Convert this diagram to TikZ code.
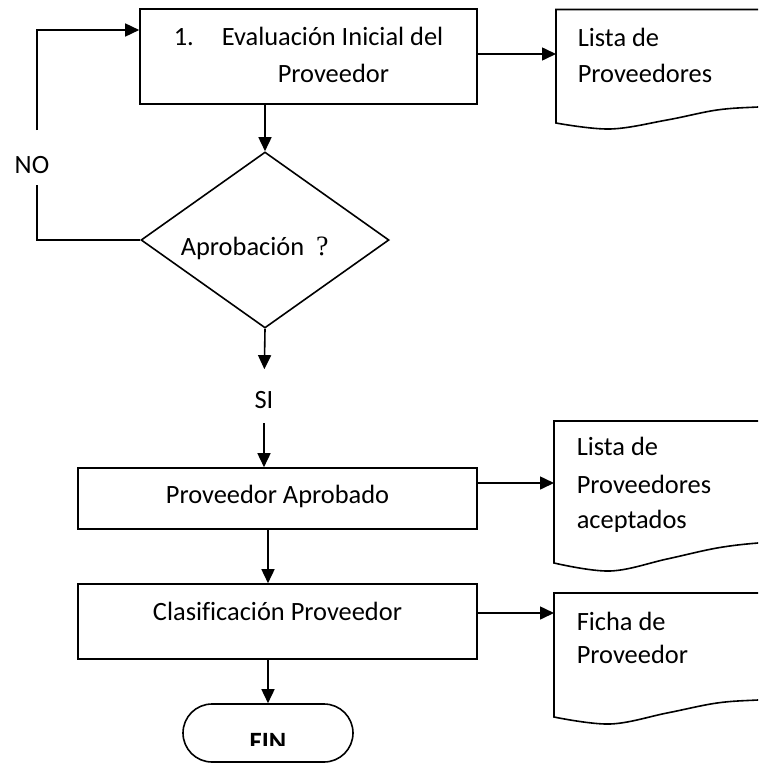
\documentclass[tikz,border=0pt]{standalone}
\usepackage{fontspec}
\setmainfont{Carlito}[Ligatures=NoCommon]
\newfontfamily\qfont{Liberation Serif}
\usetikzlibrary{arrows.meta, shapes.geometric}

\begin{document}
\begin{tikzpicture}[x=1pt, y=-1pt,
  every node/.style={font=\fontsize{26.4}{37}\selectfont},
  line width=1.6pt,
  box/.style={draw, rectangle, line width=1.6pt, inner sep=0pt},
  decision/.style={draw, diamond, inner sep=0pt, line width=1.6pt},
  terminal/.style={draw, rectangle, rounded corners=29pt, inner sep=0pt, line width=1.6pt},
  flow/.style={-{Triangle[length=14pt,width=13pt]}, line width=1.6pt},
  txt/.style={anchor=base west, inner sep=0pt},
  ctxt/.style={anchor=base, inner sep=0pt},
  docline/.style={line width=1.6pt, line join=miter},
]
\useasboundingbox (0,0) rectangle (758,763);
\clip (0,0) rectangle (758,763);

% process boxes
\node[box, minimum width=337pt, minimum height=95pt] (b1) at (308.5,56.5) {};
\node[txt] (n1) at (173,45) {1.};
\node[txt] (t1a) at (221,45) {Evaluación Inicial del};
\node[txt] (t1b) at (277,82) {Proveedor};

\node[decision, minimum width=248pt, minimum height=176pt] (dec) at (265,240) {};
\node[txt] (tq) at (180,255) {Aprobación\hspace{12pt}{\qfont\fontsize{28}{37}\selectfont ?}};

\node[inner sep=0pt] (si) at (264,399.6) {SI};
\node[inner sep=0pt] (no) at (32,164.6) {NO};

\node[box, minimum width=399pt, minimum height=61pt] (b3) at (277.5,498.5) {};
\node[ctxt] (t3) at (277.5,503) {Proveedor Aprobado};

\node[box, minimum width=399pt, minimum height=75pt] (b4) at (277.5,621.5) {};
\node[ctxt] (t4) at (277.5,620) {Clasificación Proveedor};

% end terminal; its label is cut by the text frame
\node[terminal, minimum width=170pt, minimum height=58pt] (fin) at (268,733) {};
\begin{scope}
  \clip (190,720) rectangle (346,745);
  \node[ctxt, font=\fontsize{26.4}{37}\selectfont\bfseries] (tfin) at (268,750) {FIN};
\end{scope}

% documents
\draw[docline] (790,9.5) -- (556,9.5) -- plot[smooth, tension=0.6]
  coordinates {(556,123) (610,129) (667,120) (717,110) (758,107) (790,106)};
\node[txt] (d1a) at (577,46) {Lista de};
\node[txt] (d1b) at (577,82) {Proveedores};

\draw[docline] (790,421) -- (554,421) -- plot[smooth, tension=0.6]
  coordinates {(554,563) (610,571) (667,559) (717,548) (758,543) (790,542)};
\node[txt] (d2a) at (576,455) {Lista de};
\node[txt] (d2b) at (576,493) {Proveedores};
\begin{scope}
  \clip (560,500) rectangle (758,531.5);
  \node[txt] (d2c) at (576,528) {aceptados};
\end{scope}

\draw[docline] (790,593) -- (554,593) -- plot[smooth, tension=0.6]
  coordinates {(554,717) (610,724) (667,713) (717,703) (758,700) (790,699)};
\node[txt] (d3a) at (576,630) {Ficha de};
\node[txt] (d3b) at (576,663) {Proveedor};

% connector ends on the documents and on the loop
\coordinate (d1) at (556,54);
\coordinate (d2) at (554,483);
\coordinate (d3) at (554,613);
\coordinate (noB) at (37,185);
\coordinate (noT) at (37,130);

% connectors
\draw[flow] (b1.south -| dec.north) -- (dec.north);
\draw[flow, shorten >=21pt] (dec.south) -- (si.north);
\draw[flow, shorten <=14pt] (si.south) -- (si.south |- b3.north);
\draw[flow] (b3.south -| fin.north) -- (b4.north -| fin.north);
\draw[flow] (b4.south -| fin.north) -- (fin.north);

\draw (dec.west) -| (noB);
\draw[flow] (noT) |- ([yshift=26.5pt]b1.west);

\draw[flow] (b1.east |- d1) -- (d1);
\draw[flow] (b3.east |- d2) -- (d2);
\draw[flow] (b4.east |- d3) -- (d3);
\end{tikzpicture}
\end{document}
